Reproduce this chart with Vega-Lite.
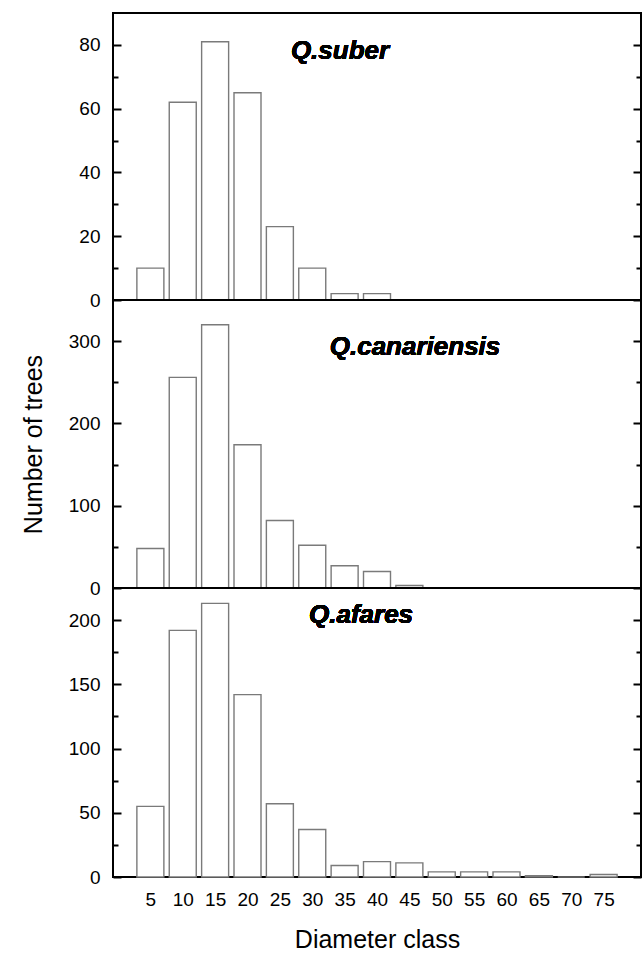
{
  "$schema": "https://vega.github.io/schema/vega-lite/v6.json",
  "padding": {"left": 20, "top": 12, "right": 0, "bottom": 0},
  "background": "white",
  "bounds": "flush",
  "datasets": {
    "suber": [
      {"d": 5, "n": 10}, {"d": 10, "n": 62}, {"d": 15, "n": 81}, {"d": 20, "n": 65},
      {"d": 25, "n": 23}, {"d": 30, "n": 10}, {"d": 35, "n": 2}, {"d": 40, "n": 2}
    ],
    "canariensis": [
      {"d": 5, "n": 48}, {"d": 10, "n": 256}, {"d": 15, "n": 320}, {"d": 20, "n": 174},
      {"d": 25, "n": 82}, {"d": 30, "n": 52}, {"d": 35, "n": 27}, {"d": 40, "n": 20},
      {"d": 45, "n": 3}
    ],
    "afares": [
      {"d": 5, "n": 55}, {"d": 10, "n": 192}, {"d": 15, "n": 213}, {"d": 20, "n": 142},
      {"d": 25, "n": 57}, {"d": 30, "n": 37}, {"d": 35, "n": 9}, {"d": 40, "n": 12},
      {"d": 45, "n": 11}, {"d": 50, "n": 4}, {"d": 55, "n": 4}, {"d": 60, "n": 4},
      {"d": 65, "n": 1}, {"d": 70, "n": 0}, {"d": 75, "n": 2}
    ]
  },
  "config": {
    "view": {"stroke": "black", "strokeWidth": 2},
    "font": "Liberation Sans",
    "axis": {
      "labelFont": "Liberation Sans",
      "labelFontSize": 19,
      "labelColor": "black",
      "titleFont": "Liberation Sans",
      "titleFontSize": 25,
      "titleFontWeight": "normal",
      "titleColor": "black",
      "domain": false,
      "grid": false,
      "tickColor": "black",
      "tickWidth": 2,
      "labelOverlap": false
    },
    "axisX": {"labelOverlap": false, "labelSeparation": 0}
  },
  "spacing": 0,
  "vconcat": [
    {
      "width": 528,
      "height": 287,
      "data": {"name": "suber"},
      "resolve": {"axis": {"y": "independent"}},
      "layer": [
        {
          "mark": {"type": "bar", "fill": "white", "stroke": "#7a7a7a", "strokeWidth": 1.4, "width": 27},
          "encoding": {
            "x": {"field": "d", "type": "quantitative", "scale": {"domain": [0, 80], "nice": false}, "axis": null},
            "y": {"field": "n", "type": "quantitative", "scale": {"domain": [0, 90], "nice": false},
              "axis": {"title": null, "values": [0, 10, 20, 30, 40, 50, 60, 70, 80],
                "labelExpr": "datum.value % 20 === 0 ? datum.label : ''",
                "tickSize": {"condition": {"test": "datum.value % 20 === 0", "value": -8}, "value": -5},
                "labelPadding": 21}}
          }
        },
        {
          "mark": {"type": "text", "text": "Q.suber", "fontSize": 26, "fontWeight": "bold", "fontStyle": "italic", "align": "left", "baseline": "middle", "color": "black"},
          "encoding": {
            "x": {"datum": 26.7, "type": "quantitative", "scale": {"domain": [0, 80], "nice": false}, "axis": null},
            "y": {"datum": 78, "type": "quantitative", "scale": {"domain": [0, 90], "nice": false},
              "axis": {"orient": "right", "title": null, "labels": false, "values": [0, 10, 20, 30, 40, 50, 60, 70, 80],
                "tickSize": {"condition": {"test": "datum.value % 20 === 0", "value": -8}, "value": -5}}}
          }
        }
      ]
    },
    {
      "width": 528,
      "height": 288,
      "data": {"name": "canariensis"},
      "resolve": {"axis": {"y": "independent"}},
      "layer": [
        {
          "mark": {"type": "bar", "fill": "white", "stroke": "#7a7a7a", "strokeWidth": 1.4, "width": 27},
          "encoding": {
            "x": {"field": "d", "type": "quantitative", "scale": {"domain": [0, 80], "nice": false}, "axis": null},
            "y": {"field": "n", "type": "quantitative", "scale": {"domain": [0, 350], "nice": false},
              "axis": {"title": "Number of trees", "values": [0, 50, 100, 150, 200, 250, 300],
                "labelExpr": "datum.value % 100 === 0 ? datum.label : ''",
                "tickSize": {"condition": {"test": "datum.value % 100 === 0", "value": -8}, "value": -5},
                "labelPadding": 21,
                "titleX": -80, "titleY": 144, "titleAngle": -90, "titleAlign": "center", "titleBaseline": "middle"}}
          }
        },
        {
          "mark": {"type": "text", "text": "Q.canariensis", "fontSize": 26, "fontWeight": "bold", "fontStyle": "italic", "align": "left", "baseline": "middle", "color": "black"},
          "encoding": {
            "x": {"datum": 32.7, "type": "quantitative", "scale": {"domain": [0, 80], "nice": false}, "axis": null},
            "y": {"datum": 293, "type": "quantitative", "scale": {"domain": [0, 350], "nice": false},
              "axis": {"orient": "right", "title": null, "labels": false, "values": [0, 50, 100, 150, 200, 250, 300],
                "tickSize": {"condition": {"test": "datum.value % 100 === 0", "value": -8}, "value": -5}}}
          }
        }
      ]
    },
    {
      "width": 528,
      "height": 289,
      "data": {"name": "afares"},
      "resolve": {"axis": {"y": "independent"}},
      "layer": [
        {
          "mark": {"type": "bar", "fill": "white", "stroke": "#7a7a7a", "strokeWidth": 1.4, "width": 27},
          "encoding": {
            "x": {"field": "d", "type": "quantitative", "scale": {"domain": [0, 80], "nice": false},
              "axis": {"title": "Diameter class", "values": [5, 10, 15, 20, 25, 30, 35, 40, 45, 50, 55, 60, 65, 70, 75],
                "ticks": false, "labelPadding": 13, "titlePadding": 18, "labelFlush": false, "labelOverlap": false, "labelSeparation": 0}},
            "y": {"field": "n", "type": "quantitative", "scale": {"domain": [0, 225], "nice": false},
              "axis": {"title": null, "values": [0, 25, 50, 75, 100, 125, 150, 175, 200],
                "labelExpr": "datum.value % 50 === 0 ? datum.label : ''",
                "tickSize": {"condition": {"test": "datum.value % 50 === 0", "value": -8}, "value": -5},
                "labelPadding": 21}}
          }
        },
        {
          "mark": {"type": "text", "text": "Q.afares", "fontSize": 26, "fontWeight": "bold", "fontStyle": "italic", "align": "left", "baseline": "middle", "color": "black"},
          "encoding": {
            "x": {"datum": 29.5, "type": "quantitative", "scale": {"domain": [0, 80], "nice": false},
              "axis": {"title": "Diameter class", "values": [5, 10, 15, 20, 25, 30, 35, 40, 45, 50, 55, 60, 65, 70, 75],
                "ticks": false, "labelPadding": 13, "titlePadding": 18, "labelFlush": false, "labelOverlap": false, "labelSeparation": 0}},
            "y": {"datum": 204, "type": "quantitative", "scale": {"domain": [0, 225], "nice": false},
              "axis": {"orient": "right", "title": null, "labels": false, "values": [0, 25, 50, 75, 100, 125, 150, 175, 200],
                "tickSize": {"condition": {"test": "datum.value % 50 === 0", "value": -8}, "value": -5}}}
          }
        }
      ]
    }
  ]
}
